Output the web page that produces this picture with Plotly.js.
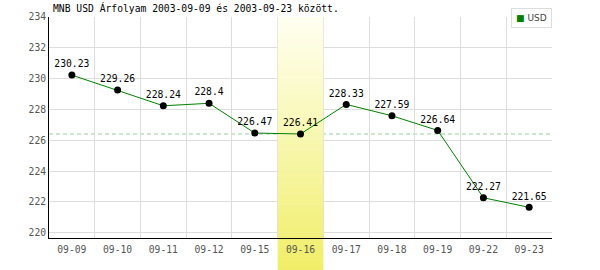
<!DOCTYPE html>
<html>
<head>
<meta charset="utf-8">
<script src="https://cdn.plot.ly/plotly-3.0.1.min.js"></script>
<style>html,body{margin:0;padding:0;background:#fff;}#chart{width:600px;height:270px;}</style>
</head>
<body>
<div id="chart"></div>
<script>
// Data
var dates = ["09-09","09-10","09-11","09-12","09-15","09-16","09-17","09-18","09-19","09-22","09-23"];
var usdValues = [230.23, 229.26, 228.24, 228.4, 226.47, 226.41, 228.33, 227.59, 226.64, 222.27, 221.65];
var valueLabels = ["230.23","229.26","228.24","228.4","226.47","226.41","228.33","227.59","226.64","222.27","221.65"];
var yTicks = [220, 222, 224, 226, 228, 230, 232, 234];
var highlightIndex = 5;
var seriesName = "USD";
var titleText = "MNB USD Árfolyam 2003-09-09 és 2003-09-23 között.";

var W = 600, H = 270;
var M = {l: 49, r: 48, t: 17, b: 32};
var plotH = H - M.t - M.b;
var yRange = [219.66, 234];
var mono = "DejaVu Sans Mono, monospace";

function lerp(a, b, t) { return Math.round(a + (b - a) * t); }
function bandColor(px) {
  var t = Math.max(0, Math.min(1, (px - M.t) / (H - M.t)));
  var top = [255, 255, 242], bot = [240, 238, 104];
  return "rgb(" + lerp(top[0], bot[0], t) + "," + lerp(top[1], bot[1], t) + "," + lerp(top[2], bot[2], t) + ")";
}

var shapes = [];
// reference dashed line at highlighted day's value
shapes.push({type: "line", layer: "between", xref: "paper", yref: "y", x0: 0, x1: 1,
  y0: usdValues[highlightIndex], y1: usdValues[highlightIndex],
  line: {color: "#99d099", width: 1, dash: "4px,3px"}});

// highlight band inside plot (gradient strips)
var nIn = 40;
for (var i = 0; i < nIn; i++) {
  var pTop = M.t + plotH * i / nIn, pBot = M.t + plotH * (i + 1) / nIn;
  var vTop = yRange[1] - (yRange[1] - yRange[0]) * i / nIn;
  var vBot = yRange[1] - (yRange[1] - yRange[0]) * (i + 1) / nIn;
  shapes.push({type: "rect", layer: "between", xref: "x", yref: "y",
    x0: highlightIndex - 0.5, x1: highlightIndex + 0.5, y0: vBot, y1: vTop + 0.02,
    fillcolor: bandColor((pTop + pBot) / 2), line: {width: 0}});
}
// highlight band below plot
var nOut = 8;
var outH = M.b / plotH;
for (var j = 0; j < nOut; j++) {
  var p0 = H - M.b + M.b * j / nOut, p1 = H - M.b + M.b * (j + 1) / nOut;
  shapes.push({type: "rect", layer: "below", xref: "x", yref: "paper",
    x0: highlightIndex - 0.5, x1: highlightIndex + 0.5,
    y0: -outH * (j + 1) / nOut - 0.002, y1: -outH * j / nOut,
    fillcolor: bandColor((p0 + p1) / 2), line: {width: 0}});
}

var trace = {
  type: "scatter",
  mode: "lines+markers+text",
  x: dates,
  y: usdValues,
  text: valueLabels,
  textposition: "top center",
  textfont: {family: mono, size: 9.7, color: "#000"},
  line: {color: "#008000", width: 1},
  marker: {color: "#000", size: 7},
  name: seriesName,
  showlegend: false,
  cliponaxis: false,
  hoverinfo: "x+y"
};

var layout = {
  width: W, height: H,
  margin: M,
  paper_bgcolor: "#fff",
  plot_bgcolor: "#fff",
  showlegend: false,
  title: {text: titleText, font: {family: mono, size: 9.7, color: "#000"},
    x: 53 / W, xanchor: "left", xref: "container", y: 1 - 9 / H, yanchor: "middle", yref: "container"},
  xaxis: {
    type: "category",
    range: [-0.5, dates.length - 0.5],
    tickson: "boundaries",
    showgrid: true, gridcolor: "#dddddd", gridwidth: 1,
    showline: true, linecolor: "#000", linewidth: 1,
    ticks: "", ticklabelstandoff: 2, tickfont: {family: mono, size: 9.7, color: "#555"},
    zeroline: false, fixedrange: true
  },
  yaxis: {
    range: yRange,
    tickvals: yTicks,
    ticktext: yTicks.map(String),
    showgrid: true, gridcolor: "#dddddd", gridwidth: 1,
    showline: true, linecolor: "#000", linewidth: 1,
    ticks: "", tickfont: {family: mono, size: 9.7, color: "#555"},
    zeroline: false, fixedrange: true
  },
  shapes: shapes,
  annotations: [{
    xref: "paper", yref: "paper", x: 1, y: 1 + (M.t - 8) / plotH,
    xanchor: "right", yanchor: "top", showarrow: false,
    text: '<span style="color:#008000">■</span> ' + seriesName,
    font: {family: "DejaVu Sans, sans-serif", size: 9, color: "#444"},
    bgcolor: "#fff", bordercolor: "#dddddd", borderwidth: 1, borderpad: 4
  }]
};

Plotly.newPlot("chart", [trace], layout, {displayModeBar: false, staticPlot: true});
</script>
</body>
</html>
